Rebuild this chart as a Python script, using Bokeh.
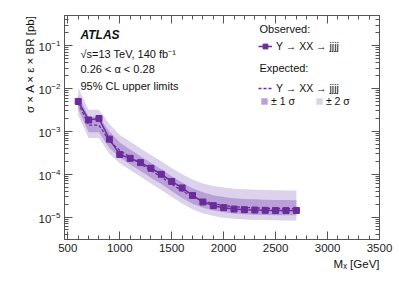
import math
from bokeh.plotting import figure
from bokeh.models import (Range1d, LinearAxis, LogAxis, FixedTicker, Label, Legend,
                          LegendItem, Title)
from bokeh.embed import file_html
from bokeh.resources import INLINE

# ---------------- data ----------------
mass = [600, 700, 800, 900, 1000, 1100, 1200, 1300, 1400, 1500, 1600,
        1700, 1800, 1900, 2000, 2100, 2200, 2300, 2400, 2500, 2600, 2700]
observed = [5.0e-3, 1.85e-3, 2.0e-3, 6.6e-4, 2.9e-4, 2.35e-4, 1.87e-4, 1.38e-4,
            1.0e-4, 6.8e-5, 4.8e-5, 3.2e-5, 2.25e-5, 1.85e-5, 1.66e-5, 1.54e-5,
            1.49e-5, 1.46e-5, 1.44e-5, 1.42e-5, 1.42e-5, 1.43e-5]
expected = [4.6e-3, 1.4e-3, 1.4e-3, 6.0e-4, 3.6e-4, 2.5e-4, 1.75e-4, 1.22e-4,
            8.6e-5, 5.9e-5, 4.1e-5, 3.0e-5, 2.4e-5, 2.05e-5, 1.86e-5, 1.75e-5,
            1.68e-5, 1.64e-5, 1.61e-5, 1.59e-5, 1.58e-5, 1.57e-5]
exp_p1 = [7.0e-3, 2.2e-3, 2.2e-3, 1.0e-3, 5.5e-4, 3.8e-4, 2.65e-4, 1.85e-4,
          1.31e-4, 9.0e-5, 6.4e-5, 4.7e-5, 3.8e-5, 3.25e-5, 2.95e-5, 2.75e-5,
          2.65e-5, 2.6e-5, 2.55e-5, 2.52e-5, 2.5e-5, 2.48e-5]
exp_m1 = [3.3e-3, 9.5e-4, 9.5e-4, 4.1e-4, 2.45e-4, 1.7e-4, 1.19e-4, 8.3e-5,
          5.9e-5, 4.0e-5, 2.8e-5, 2.05e-5, 1.65e-5, 1.42e-5, 1.29e-5, 1.21e-5,
          1.16e-5, 1.14e-5, 1.12e-5, 1.11e-5, 1.1e-5, 1.1e-5]
exp_p2 = [1.05e-2, 3.2e-3, 3.2e-3, 1.5e-3, 8.3e-4, 5.8e-4, 4.0e-4, 2.8e-4,
          2.0e-4, 1.38e-4, 1.0e-4, 7.5e-5, 6.1e-5, 5.3e-5, 4.9e-5, 4.6e-5,
          4.45e-5, 4.35e-5, 4.3e-5, 4.25e-5, 4.2e-5, 4.2e-5]
exp_m2 = [2.4e-3, 7.0e-4, 7.0e-4, 3.0e-4, 1.8e-4, 1.25e-4, 8.8e-5, 6.1e-5,
          4.3e-5, 2.95e-5, 2.07e-5, 1.52e-5, 1.23e-5, 1.06e-5, 9.6e-6, 9.1e-6,
          8.8e-6, 8.6e-6, 8.5e-6, 8.4e-6, 8.35e-6, 8.3e-6]

x_major = [500, 1000, 1500, 2000, 2500, 3000, 3500]

# ---------------- style ----------------
FONT = "Liberation Sans"
C_OBS = "#6a2c9c"
C_1S = "#b9a1d8"
C_2S = "#ddd2ec"
AX = "#555555"

X0, X1 = 468, 3500
Y0, Y1 = 3.0e-6, 0.508

W, H = 395, 282
FL, FR, FT, FB = 64, 379, 15, 239   # frame edges in canvas px

p = figure(width=W, height=H, output_backend="svg", toolbar_location=None,
           x_range=Range1d(X0, X1), y_range=Range1d(Y0, Y1), y_axis_type="log",
           x_axis_location=None, y_axis_location=None)
p.min_border_left = FL
p.min_border_right = W - FR
p.min_border_top = FT
p.min_border_bottom = H - FB
p.grid.visible = False
p.outline_line_color = AX
p.background_fill_color = "white"
p.border_fill_color = "white"

# pixel -> data helpers for text placement inside the frame
def dx(px):
    return X0 + (px - FL) / (FR - FL) * (X1 - X0)

def dy(py):
    l0, l1 = math.log10(Y0), math.log10(Y1)
    return 10 ** (l1 - (py - FT) / (FB - FT) * (l1 - l0))

x_minor = list(range(500, 3501, 100))
y_major = [1e-5, 1e-4, 1e-3, 1e-2, 1e-1]
y_minor = [m * 10 ** e for e in range(-6, 0) for m in range(2, 10)]

def style_axis(ax, labels):
    ax.axis_line_color = AX
    ax.major_tick_line_color = AX
    ax.minor_tick_line_color = AX
    ax.major_tick_in = 8
    ax.major_tick_out = 0
    ax.minor_tick_in = 4
    ax.minor_tick_out = 0
    ax.major_label_text_font = FONT
    ax.major_label_text_font_size = "11.5px"
    ax.major_label_text_color = "#222222"
    if not labels:
        ax.major_label_text_font_size = "0px"
        ax.major_label_text_color = None

xb = LinearAxis(ticker=FixedTicker(ticks=x_major, minor_ticks=x_minor))
style_axis(xb, True)
xb.major_label_standoff = 4
p.add_layout(xb, "below")
xt = LinearAxis(ticker=FixedTicker(ticks=x_major, minor_ticks=x_minor))
style_axis(xt, False)
p.add_layout(xt, "above")

yl = LogAxis(ticker=FixedTicker(ticks=y_major, minor_ticks=y_minor))
style_axis(yl, True)
yl.major_label_standoff = 4
p.add_layout(yl, "left")
yr = LogAxis(ticker=FixedTicker(ticks=y_major, minor_ticks=y_minor))
style_axis(yr, False)
p.add_layout(yr, "right")

# axis titles as side titles
tx = Title(text="Mₓ [GeV]", align="right", text_font=FONT,
           text_font_size="11.5px", text_font_style="normal",
           text_color="#111111", standoff=2, offset=0)
p.add_layout(tx, "below")
ty = Title(text="σ × A × ε × BR [pb]", align="right", text_font=FONT,
           text_font_size="11.5px", text_font_style="normal",
           text_color="#111111", standoff=0, offset=0)
p.add_layout(ty, "left")

# ---------------- glyphs ----------------
r2 = p.varea(x=mass, y1=exp_m2, y2=exp_p2, fill_color=C_2S)
r1 = p.varea(x=mass, y1=exp_m1, y2=exp_p1, fill_color=C_1S)
re = p.line(mass, expected, line_color=C_OBS, line_width=1.3, line_dash="3 2")
ro = p.line(mass, observed, line_color=C_OBS, line_width=1.5)
rm = p.scatter(mass, observed, marker="square", size=6, fill_color=C_OBS,
               line_color=C_OBS)

# ---------------- texts ----------------
def lab(px, py, txt, size="11px", style="normal", align="left", angle=0):
    l = Label(x=dx(px), y=dy(py), text=txt, text_font=FONT,
              text_font_size=size, text_font_style=style, text_align=align,
              text_baseline="middle", angle=angle, text_color="#111111")
    p.add_layout(l)

lab(80, 34, "ATLAS", size="12px", style="bold italic")
lab(80, 53, "√s=13 TeV, 140 fb⁻¹")
lab(80, 68, "0.26 < α < 0.28")
lab(80, 85, "95% CL upper limits")
lab(259, 28, "Observed:")
lab(259, 67, "Expected:")

# ---------------- legends ----------------
def mk_legend(items, cy, left, h, orient="vertical", gw=14, gh=12, spacing=0,
              standoff=4):
    lg = Legend(items=items, orientation=orient,
                location=(left - FL, FB - (cy + h / 2)))
    lg.padding = 0
    lg.margin = 0
    lg.spacing = spacing
    lg.glyph_width = gw
    lg.glyph_height = gh
    lg.label_height = gh
    lg.label_standoff = standoff
    lg.label_text_font = FONT
    lg.label_text_font_size = "10.5px"
    lg.label_text_color = "#111111"
    lg.border_line_color = None
    lg.background_fill_alpha = 0
    p.add_layout(lg)

mk_legend([LegendItem(label="Y → XX → jjjj", renderers=[ro, rm])], 46, 258, 12)
mk_legend([LegendItem(label="Y → XX → jjjj", renderers=[re])], 88, 258, 12)
mk_legend([LegendItem(label="± 1 σ", renderers=[r1]),
           LegendItem(label="± 2 σ", renderers=[r2])], 103, 260, 8,
          orient="horizontal", gw=8, gh=8, spacing=20, standoff=3)

open("out.html", "w").write(file_html(p, INLINE))
